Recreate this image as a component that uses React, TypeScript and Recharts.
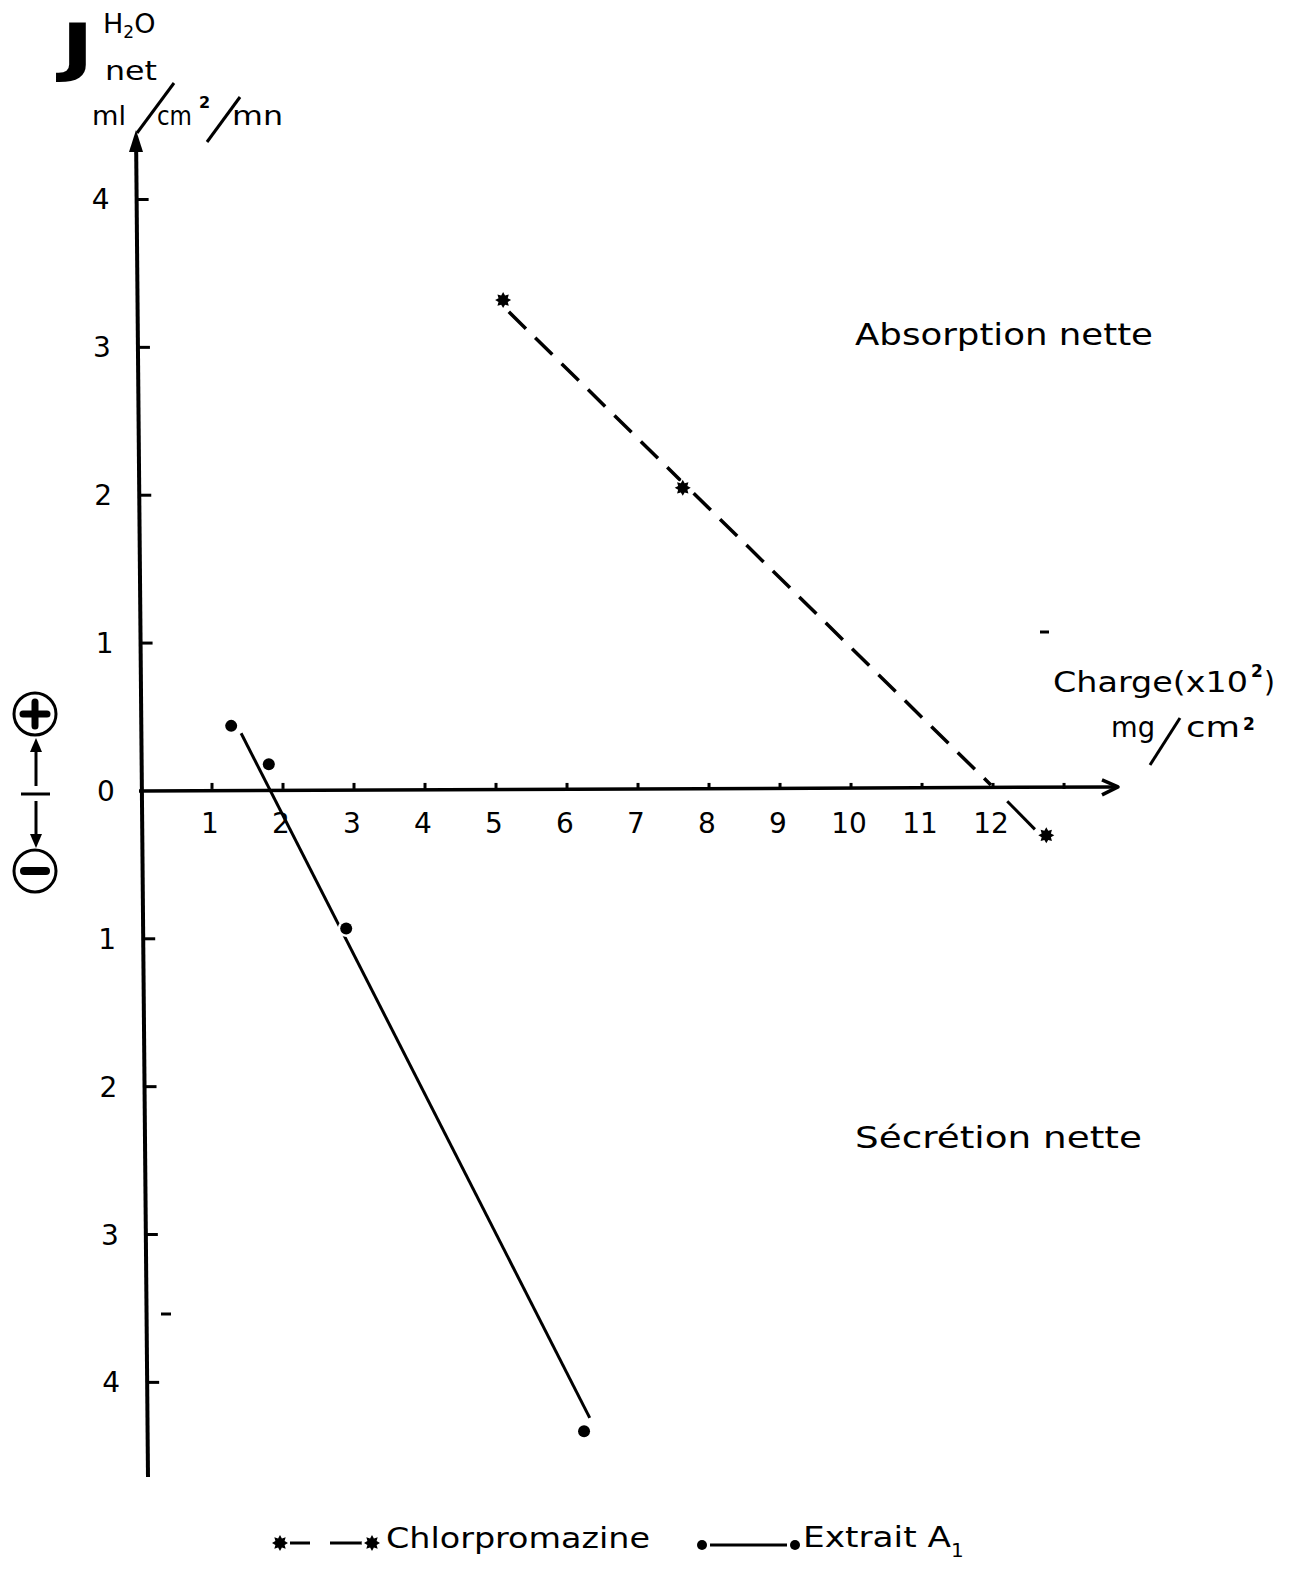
import { ComposedChart, Line, Scatter, XAxis, YAxis, ReferenceLine, ReferenceDot } from 'recharts';

const FONT = '"DejaVu Sans", sans-serif';
const INK = '#000';

const PLOT_TOP = 130;
const PLOT_BOTTOM = 1477;
// the hand-drawn vertical axis leans slightly to the right going down
const AXIS_LEAN = 12;
const axisShift = (y: number) => -5 + ((y - PLOT_TOP) / (PLOT_BOTTOM - PLOT_TOP)) * AXIS_LEAN;

// Chlorpromazine: charge (x10^2 mg/cm²) vs J net H2O (ml/cm²/mn)
const chlorCharge = [5.1, 7.63, 12.75];
const chlorFlux = [3.32, 2.05, -0.3];
// dashed fit down to the axis, then the short stroke beyond it
const chlorFitCharge = [5.18, 11.97];
const chlorFitFlux = [3.24, 0.04];
const chlorTailCharge = [12.2, 12.59];
const chlorTailFlux = [-0.07, -0.26];

// Extrait A1
const extraitCharge = [1.27, 1.8, 2.89, 6.24];
const extraitFlux = [0.44, 0.18, -0.93, -4.33];
const extraitFitCharge = [1.41, 6.32];
const extraitFitFlux = [0.39, -4.24];

const xTicks = [1, 2, 3, 4, 5, 6, 7, 8, 9, 10, 11, 12, 13];
const xTickLabels = ['1', '2', '3', '4', '5', '6', '7', '8', '9', '10', '11', '12', ''];
const yTicks = [4, 3, 2, 1, 0, -1, -2, -3, -4];
const yTickLabels = ['4', '3', '2', '1', '0', '1', '2', '3', '4'];

const pairs = (xs: number[], ys: number[]) => xs.map((x, i) => ({ x, y: ys[i] }));

const Star = (p: any) => {
  const { cx, cy } = p;
  const pts: string[] = [];
  for (let i = 0; i < 16; i++) {
    const r = i % 2 === 0 ? 8 : 5;
    const a = (Math.PI * i) / 8;
    pts.push(`${cx + r * Math.cos(a)},${cy + r * Math.sin(a)}`);
  }
  return <polygon points={pts.join(' ')} fill={INK} stroke="#fff" strokeWidth={3} paintOrder="stroke" />;
};

const Dot = (p: any) => (
  <circle cx={p.cx} cy={p.cy} r={6} fill={INK} stroke="#fff" strokeWidth={5} paintOrder="stroke" />
);

const HorizontalAxis = (p: any) => {
  const x1 = Math.min(p.x1, p.x2);
  const x2 = Math.max(p.x1, p.x2);
  const y = p.y1;
  return (
    <g>
      <line x1={x1 - 2} y1={y} x2={x2} y2={y - 4} stroke={INK} strokeWidth={3.5} />
      <path d={`M${x2 - 16},${y - 11} L${x2},${y - 4} L${x2 - 16},${y + 4}`} fill="none" stroke={INK} strokeWidth={3.5} strokeLinejoin="round" />
    </g>
  );
};

const VerticalAxis = (p: any) => {
  const top = Math.min(p.y1, p.y2);
  const bottom = Math.max(p.y1, p.y2);
  const x = p.x1;
  return (
    <g>
      <line x1={x + axisShift(top + 12)} y1={top + 12} x2={x + axisShift(bottom)} y2={bottom} stroke={INK} strokeWidth={4} />
      <path d={`M${x - 5},${top} L${x - 12},${top + 22} L${x + 2},${top + 22} Z`} fill={INK} />
    </g>
  );
};

const xTickShape = (label: string) => (p: any) => (
  <g>
    <line x1={p.cx} y1={p.cy - 2} x2={p.cx} y2={p.cy - 8} stroke={INK} strokeWidth={3} />
    {label && (
      <text x={p.cx - 2} y={p.cy + 42} textAnchor="middle" fontFamily={FONT} fontSize={28} fill={INK}>
        {label}
      </text>
    )}
  </g>
);

const yTickShape = (label: string, value: number) => (p: any) => {
  const ax = p.cx + axisShift(p.cy);
  return (
    <g>
      {value !== 0 && <line x1={ax} y1={p.cy} x2={ax + 12} y2={p.cy} stroke={INK} strokeWidth={3} />}
      <text x={ax - 36} y={p.cy + 10} textAnchor="middle" fontFamily={FONT} fontSize={28} fill={INK}>
        {label}
      </text>
    </g>
  );
};

function Annotations() {
  const txt = { fontFamily: FONT, fill: INK };
  return (
    <svg width={1304} height={1570} style={{ position: 'absolute', left: 0, top: 0, pointerEvents: 'none' }}>
      {/* J net H2O, ml/cm²/mn */}
      <text x={61} y={69} {...txt} fontSize={64} fontWeight="bold" textLength={33} lengthAdjust="spacingAndGlyphs">J</text>
      <text x={103} y={33} {...txt} fontSize={27}>
        H<tspan fontSize={17} dy={5}>2</tspan><tspan dy={-5}>O</tspan>
      </text>
      <text x={105} y={80} {...txt} fontSize={27} textLength={52} lengthAdjust="spacingAndGlyphs">net</text>
      <text x={92} y={125} {...txt} fontSize={27} textLength={34} lengthAdjust="spacingAndGlyphs">ml</text>
      <line x1={137} y1={133} x2={174} y2={83} stroke={INK} strokeWidth={3} />
      <text x={157} y={125} {...txt} fontSize={27} textLength={35} lengthAdjust="spacingAndGlyphs">cm</text>
      <text x={199} y={108} {...txt} fontSize={16} fontWeight="bold">2</text>
      <line x1={207} y1={142} x2={240} y2={97} stroke={INK} strokeWidth={3} />
      <text x={232} y={125} {...txt} fontSize={27} textLength={51} lengthAdjust="spacingAndGlyphs">mn</text>

      {/* sign indicator */}
      <circle cx={35} cy={714} r={21} fill="none" stroke={INK} strokeWidth={3} />
      <path d="M35,702 L35,726 M23,714 L47,714" stroke={INK} strokeWidth={7} strokeLinecap="round" />
      <line x1={36} y1={786} x2={36} y2={748} stroke={INK} strokeWidth={3} />
      <path d="M36,738 L30,752 L42,752 Z" fill={INK} />
      <line x1={21} y1={794} x2={50} y2={794} stroke={INK} strokeWidth={3} />
      <line x1={36} y1={801} x2={36} y2={838} stroke={INK} strokeWidth={3} />
      <path d="M36,848 L30,834 L42,834 Z" fill={INK} />
      <circle cx={35} cy={871} r={21} fill="none" stroke={INK} strokeWidth={3} />
      <line x1={24} y1={871} x2={46} y2={871} stroke={INK} strokeWidth={8} strokeLinecap="round" />

      {/* stray pen marks */}
      <line x1={1040} y1={632} x2={1049} y2={632} stroke={INK} strokeWidth={3} />
      <line x1={161} y1={1314} x2={171} y2={1314} stroke={INK} strokeWidth={3} />

      {/* regions */}
      <text x={855} y={345} {...txt} fontSize={30} textLength={298} lengthAdjust="spacingAndGlyphs">Absorption  nette</text>
      <text x={855} y={1148} {...txt} fontSize={30} textLength={287} lengthAdjust="spacingAndGlyphs">Sécrétion  nette</text>

      {/* x axis title */}
      <text x={1053} y={692} {...txt} fontSize={28} textLength={195} lengthAdjust="spacingAndGlyphs">Charge(x10</text>
      <text x={1251} y={677} {...txt} fontSize={17} fontWeight="bold">2</text>
      <text x={1264} y={692} {...txt} fontSize={28}>)</text>
      <text x={1111} y={737} {...txt} fontSize={28} textLength={44} lengthAdjust="spacingAndGlyphs">mg</text>
      <line x1={1150} y1={765} x2={1180} y2={718} stroke={INK} strokeWidth={3} />
      <text x={1186} y={737} {...txt} fontSize={28} textLength={54} lengthAdjust="spacingAndGlyphs">cm</text>
      <text x={1243} y={730} {...txt} fontSize={17} fontWeight="bold">2</text>

      {/* legend */}
      <Star cx={280} cy={1543} />
      <line x1={290} y1={1543} x2={310} y2={1543} stroke={INK} strokeWidth={3} />
      <line x1={330} y1={1543} x2={362} y2={1543} stroke={INK} strokeWidth={3} />
      <Star cx={372} cy={1543} />
      <text x={386} y={1548} {...txt} fontSize={29} textLength={264} lengthAdjust="spacingAndGlyphs">Chlorpromazine</text>
      <circle cx={702} cy={1545} r={5} fill={INK} />
      <line x1={710} y1={1545} x2={787} y2={1545} stroke={INK} strokeWidth={3} />
      <circle cx={795} cy={1545} r={5} fill={INK} />
      <text x={803} y={1547} {...txt} fontSize={29}>
        <tspan textLength={148} lengthAdjust="spacingAndGlyphs">Extrait A</tspan>
        <tspan fontSize={20} dy={10}>1</tspan>
      </text>
    </svg>
  );
}

export default function App() {
  return (
    <div style={{ position: 'absolute', left: 0, top: 0, width: 1304, height: 1570, background: '#fff' }}>
      <ComposedChart width={1304} height={1570} margin={{ top: PLOT_TOP, right: 186, bottom: 1570 - PLOT_BOTTOM, left: 141 }}>
        <XAxis type="number" dataKey="x" domain={[0, 13.76]} hide allowDataOverflow />
        <YAxis type="number" dataKey="y" domain={[-4.64, 4.47]} hide allowDataOverflow />

        <ReferenceLine y={0} shape={HorizontalAxis} />
        <ReferenceLine x={0} shape={VerticalAxis} />
        {xTicks.map((t, i) => (
          <ReferenceDot key={`x${t}`} x={t} y={0} r={0} ifOverflow="visible" shape={xTickShape(xTickLabels[i])} />
        ))}
        {yTicks.map((t, i) => (
          <ReferenceDot key={`y${t}`} x={0} y={t} r={0} ifOverflow="visible" shape={yTickShape(yTickLabels[i], t)} />
        ))}

        <Line data={pairs(chlorFitCharge, chlorFitFlux)} dataKey="y" stroke={INK} strokeWidth={3.5} strokeDasharray="24 13" dot={false} activeDot={false} isAnimationActive={false} />
        <Line data={pairs(chlorTailCharge, chlorTailFlux)} dataKey="y" stroke={INK} strokeWidth={3} dot={false} activeDot={false} isAnimationActive={false} />
        <Line data={pairs(extraitFitCharge, extraitFitFlux)} dataKey="y" stroke={INK} strokeWidth={3} dot={false} activeDot={false} isAnimationActive={false} />

        <Scatter data={pairs(chlorCharge, chlorFlux)} dataKey="y" shape={Star} isAnimationActive={false} />
        <Scatter data={pairs(extraitCharge, extraitFlux)} dataKey="y" shape={Dot} isAnimationActive={false} />
      </ComposedChart>
      <Annotations />
    </div>
  );
}
